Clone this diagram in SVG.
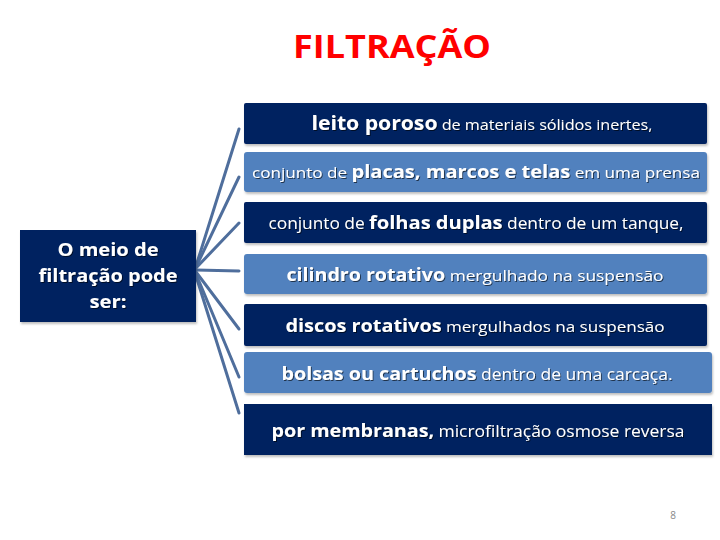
<svg xmlns="http://www.w3.org/2000/svg" width="720" height="540" viewBox="0 0 720 540">
<defs>
<filter id="sh" x="-10%" y="-30%" width="120%" height="160%">
<feDropShadow dx="1" dy="1" stdDeviation="0.6" flood-color="#000" flood-opacity="0.6"/>
</filter>
<filter id="bs" x="-5%" y="-10%" width="110%" height="130%">
<feDropShadow dx="1" dy="2" stdDeviation="1.2" flood-color="#000" flood-opacity="0.25"/>
</filter>
</defs>
<style>
.t{font-family:"Open Sans",Lato,"Liberation Sans",sans-serif;fill:#fff;text-anchor:middle}
.b{font-weight:bold}
.dark{fill:#002060}
.light{fill:#5181be}
.c line{stroke:#4f6e9c;stroke-width:3;stroke-linecap:round}
</style>
<rect width="720" height="540" fill="#fff"/>
<text x="392" y="58" font-family="'Open Sans',Lato,'Liberation Sans',sans-serif" font-weight="bold" font-size="33" fill="#ff0000" text-anchor="middle" textLength="198" lengthAdjust="spacingAndGlyphs">FILTRAÇÃO</text>

<g class="c" id="connectors">
<line x1="196" y1="266" x2="239" y2="129"/>
<line x1="196" y1="267" x2="239" y2="177"/>
<line x1="196" y1="268" x2="239" y2="223"/>
<line x1="196" y1="270" x2="239" y2="271"/>
<line x1="196" y1="272" x2="239" y2="329"/>
<line x1="196" y1="274" x2="239" y2="377"/>
<line x1="196" y1="276" x2="239" y2="413"/>
</g>

<g id="root">
<rect class="dark" x="20" y="230" width="176" height="92" filter="url(#bs)"/>
<g class="t b" font-size="18" filter="url(#sh)">
<text x="108" y="256" textLength="101" lengthAdjust="spacingAndGlyphs">O meio de</text>
<text x="108" y="282" textLength="139" lengthAdjust="spacingAndGlyphs">filtração pode</text>
<text x="108" y="308" textLength="37" lengthAdjust="spacingAndGlyphs">ser:</text>
</g>
</g>

<g id="n1">
<rect class="dark" x="244" y="103" width="463" height="41" rx="2" filter="url(#bs)"/>
<text class="t" x="482" y="130" textLength="341" lengthAdjust="spacingAndGlyphs" filter="url(#sh)"><tspan class="b" font-size="19">leito poroso</tspan><tspan font-size="14.5"> de materiais sólidos inertes,</tspan></text>
</g>
<g id="n2">
<rect class="light" x="244" y="152" width="463" height="40" rx="3" filter="url(#bs)"/>
<text class="t" x="476" y="178" textLength="448" lengthAdjust="spacingAndGlyphs" filter="url(#sh)"><tspan font-size="14.5">conjunto de </tspan><tspan class="b" font-size="17">placas, marcos e telas</tspan><tspan font-size="14.5"> em uma prensa</tspan></text>
</g>
<g id="n3">
<rect class="dark" x="244" y="202" width="463" height="41" rx="2" filter="url(#bs)"/>
<text class="t" x="476" y="229" textLength="415" lengthAdjust="spacingAndGlyphs" filter="url(#sh)"><tspan font-size="15.5">conjunto de </tspan><tspan class="b" font-size="18">folhas duplas</tspan><tspan font-size="15.5"> dentro de um tanque,</tspan></text>
</g>
<g id="n4">
<rect class="light" x="244" y="254" width="463" height="40" rx="3" filter="url(#bs)"/>
<text class="t" x="475" y="281" textLength="377" lengthAdjust="spacingAndGlyphs" filter="url(#sh)"><tspan class="b" font-size="17">cilindro rotativo</tspan><tspan font-size="15"> mergulhado na suspensão</tspan></text>
</g>
<g id="n5">
<rect class="dark" x="244" y="304" width="463" height="42" rx="2" filter="url(#bs)"/>
<text class="t" x="475" y="332" textLength="379" lengthAdjust="spacingAndGlyphs" filter="url(#sh)"><tspan class="b" font-size="17.5">discos rotativos</tspan><tspan font-size="15"> mergulhados na suspensão</tspan></text>
</g>
<g id="n6">
<rect class="light" x="244" y="352" width="468" height="41" rx="3" filter="url(#bs)"/>
<text class="t" x="477" y="380" textLength="391" lengthAdjust="spacingAndGlyphs" filter="url(#sh)"><tspan class="b" font-size="17.5">bolsas ou cartuchos</tspan><tspan font-size="15.5"> dentro de uma carcaça.</tspan></text>
</g>
<g id="n7">
<rect class="dark" x="244" y="404" width="468" height="51" filter="url(#bs)"/>
<text class="t" x="478" y="437" textLength="413" lengthAdjust="spacingAndGlyphs" filter="url(#sh)"><tspan class="b" font-size="17.5">por membranas,</tspan><tspan font-size="15.5"> microfiltração osmose reversa</tspan></text>
</g>

<text x="673" y="519" font-family="'Open Sans',Lato,'Liberation Sans',sans-serif" font-size="10" fill="#888" text-anchor="middle">8</text>
</svg>
